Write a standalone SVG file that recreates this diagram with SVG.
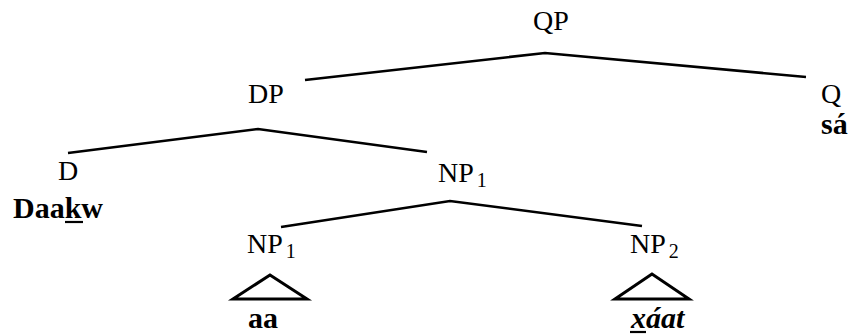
<svg xmlns="http://www.w3.org/2000/svg" width="848" height="334" viewBox="0 0 848 334">
  <style>
    text { fill: #000; }
    .lbl { font-size: 28px; }
    .sub { font-size: 20px; }
    .word { font-size: 30px; font-weight: bold; }
    .edge { fill: none; stroke: #000; stroke-width: 2.6; stroke-linejoin: miter; stroke-linecap: butt; }
    .tri { fill: none; stroke: #000; stroke-width: 3; stroke-linejoin: miter; }
    .ul { stroke: #000; stroke-width: 2.2; }
  </style>
  <rect width="848" height="334" fill="#fff"/>

  <!-- branches -->
  <g id="connectors">
    <polyline class="edge" points="305,80 545,53 806,77"/>
    <polyline class="edge" points="68,153 258,129 427,152"/>
    <polyline class="edge" points="281,227 450,201 642,226"/>
  </g>

  <g font-family="Liberation Serif, DejaVu Serif, serif">
    <g id="qp">
      <text class="lbl" x="533" y="30">QP</text>
    </g>

    <g id="dp">
      <text class="lbl" x="248" y="103">DP</text>
    </g>

    <g id="q">
      <text class="lbl" x="821" y="103">Q</text>
      <text class="word" x="821" y="134">sá</text>
    </g>

    <g id="d">
      <text class="lbl" x="58" y="180">D</text>
      <text class="word" x="13" y="218">Daakw</text>
      <line class="ul" x1="65" y1="222" x2="83" y2="222"/>
    </g>

    <g id="np1-upper">
      <text class="lbl" x="438" y="182">NP<tspan class="sub" dx="3" dy="5">1</tspan></text>
    </g>

    <g id="np1-lower">
      <text class="lbl" x="247" y="253">NP<tspan class="sub" dx="3" dy="5">1</tspan></text>
      <polygon class="tri" points="270,275 233,299 307,299"/>
      <text class="word" x="248" y="328">aa</text>
    </g>

    <g id="np2">
      <text class="lbl" x="630" y="253">NP<tspan class="sub" dx="3" dy="5">2</tspan></text>
      <polygon class="tri" points="652,274 615,299 689,299"/>
      <text class="word" x="631" y="328" font-style="italic">xáat</text>
      <line class="ul" x1="630" y1="332" x2="646" y2="332"/>
    </g>
  </g>
</svg>
